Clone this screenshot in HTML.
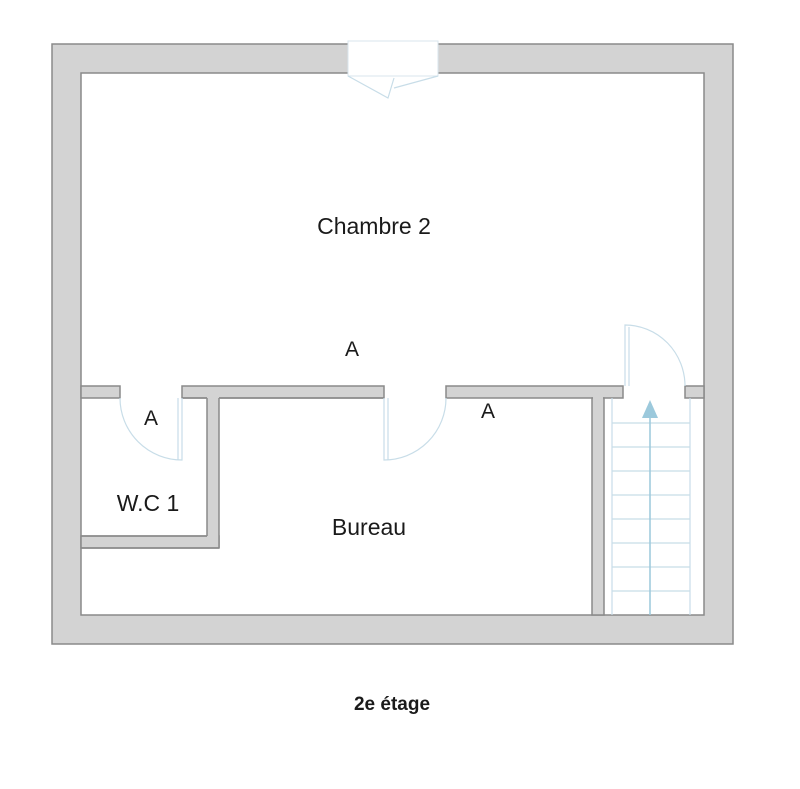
<!DOCTYPE html>
<html><head><meta charset="utf-8"><style>
html,body{margin:0;padding:0;background:#fff;}
svg{display:block}
text{font-family:"Liberation Sans",Arial,sans-serif;fill:#1a1a1a}
</style></head><body>
<svg width="800" height="789" viewBox="0 0 800 789">
<g fill="#d3d3d3" stroke="#8a8a8a" stroke-width="1.5">
<path d="M52,44 H733 V644 H52 Z M81,73 V615 H704 V73 Z" fill-rule="evenodd"/>
<rect x="81" y="386" width="39" height="12"/>
<rect x="182" y="386" width="202" height="12"/>
<rect x="446" y="386" width="177" height="12"/>
<rect x="685" y="386" width="19" height="12"/>
<rect x="81" y="536" width="138" height="12"/>
<rect x="592" y="398" width="12" height="217"/>
</g>
<rect x="207" y="387" width="12" height="160" fill="#d3d3d3"/>
<rect x="82" y="537" width="136" height="10" fill="#d3d3d3"/>
<rect x="593" y="397" width="10" height="12" fill="#d3d3d3"/>
<g stroke="#8a8a8a" stroke-width="1.5">
<line x1="219" y1="398" x2="219" y2="548"/>
<line x1="207" y1="398" x2="207" y2="536"/>
<line x1="81" y1="548" x2="219" y2="548"/>
<line x1="81" y1="536" x2="207" y2="536"/>
<line x1="219" y1="398" x2="384" y2="398"/>
<line x1="182" y1="398" x2="207" y2="398"/>
</g>
<rect x="348" y="41" width="90" height="35" fill="#fff" stroke="#d8e6ee" stroke-width="1"/>
<g fill="none" stroke="#c8dde8" stroke-width="1.2">
<path d="M348,76 L388,98 L394,78 M394,88 L438,76"/>
<path d="M120,398 A62,62 0 0 0 182,460 V398 M178,398 V460"/>
<path d="M446,398 A62,62 0 0 1 384,460 V398 M388,398 V460"/>
<path d="M625,386 V325 A60,61 0 0 1 685,386 M629,386 V327"/>
<path d="M612,398 V615 M690,398 V615 M612,423 H690 M612,447 H690 M612,471 H690 M612,495 H690 M612,519 H690 M612,543 H690 M612,567 H690 M612,591 H690"/>
</g>
<line x1="650" y1="615" x2="650" y2="410" stroke="#9cc9dc" stroke-width="1.5"/>
<polygon points="650,400 642,418 658,418" fill="#9cc9dc"/>
<text x="374" y="234" font-size="23" text-anchor="middle">Chambre 2</text>
<text x="352" y="356" font-size="21" text-anchor="middle">A</text>
<text x="151" y="425" font-size="21" text-anchor="middle">A</text>
<text x="488" y="418" font-size="21" text-anchor="middle">A</text>
<text x="148" y="511" font-size="23" text-anchor="middle">W.C 1</text>
<text x="369" y="535" font-size="23" text-anchor="middle">Bureau</text>
<text x="392" y="710" font-size="19" font-weight="bold" text-anchor="middle">2e étage</text>
</svg>
</body></html>
